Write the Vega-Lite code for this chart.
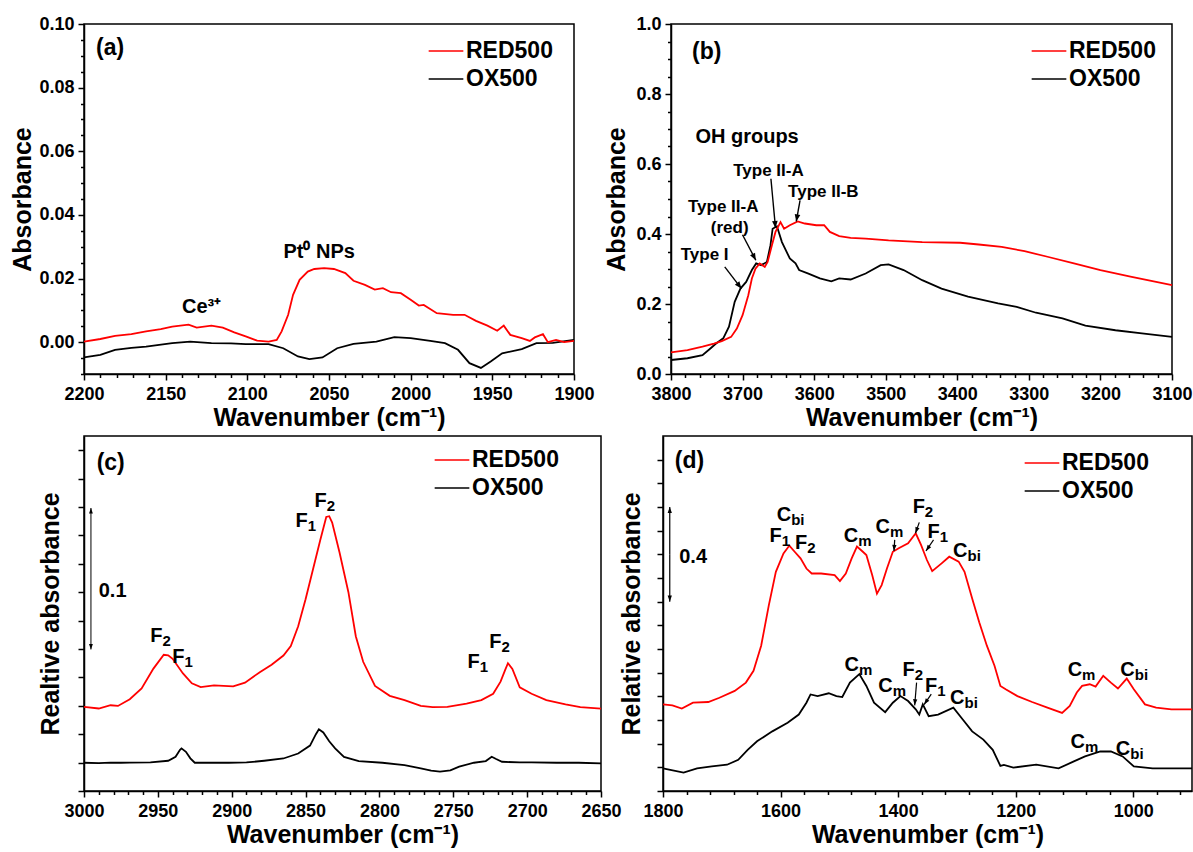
{
"$schema": "https://vega.github.io/schema/vega-lite/v6.json",
"padding": {"left": 10, "top": 14, "right": 0, "bottom": 0},
"datasets": {
"a_line": [
{"w":2200,"A":-0.0048,"s":"OX500"},{"w":2190,"A":-0.0040,"s":"OX500"},{"w":2181,"A":-0.0024,"s":"OX500"},{"w":2171,"A":-0.0018,"s":"OX500"},{"w":2162,"A":-0.0014,"s":"OX500"},{"w":2146,"A":-0.0003,"s":"OX500"},{"w":2135,"A":0.0002,"s":"OX500"},{"w":2122,"A":-0.0003,"s":"OX500"},{"w":2110,"A":-0.0004,"s":"OX500"},{"w":2101,"A":-0.0006,"s":"OX500"},{"w":2087,"A":-0.0006,"s":"OX500"},{"w":2078,"A":-0.0019,"s":"OX500"},{"w":2069,"A":-0.0045,"s":"OX500"},{"w":2062,"A":-0.0053,"s":"OX500"},{"w":2054,"A":-0.0048,"s":"OX500"},{"w":2045,"A":-0.0019,"s":"OX500"},{"w":2035,"A":-0.0005,"s":"OX500"},{"w":2021,"A":0.0002,"s":"OX500"},{"w":2010,"A":0.0016,"s":"OX500"},{"w":2000,"A":0.0013,"s":"OX500"},{"w":1988,"A":0.0004,"s":"OX500"},{"w":1979,"A":-0.0003,"s":"OX500"},{"w":1971,"A":-0.0024,"s":"OX500"},{"w":1964,"A":-0.0066,"s":"OX500"},{"w":1957,"A":-0.0081,"s":"OX500"},{"w":1951,"A":-0.0061,"s":"OX500"},{"w":1944,"A":-0.0035,"s":"OX500"},{"w":1932,"A":-0.0022,"s":"OX500"},{"w":1923,"A":-0.0003,"s":"OX500"},{"w":1913,"A":-0.0002,"s":"OX500"},{"w":1900,"A":0.0007,"s":"OX500"},
{"w":2200,"A":0.0002,"s":"RED500"},{"w":2190,"A":0.0010,"s":"RED500"},{"w":2181,"A":0.0020,"s":"RED500"},{"w":2171,"A":0.0025,"s":"RED500"},{"w":2162,"A":0.0034,"s":"RED500"},{"w":2153,"A":0.0041,"s":"RED500"},{"w":2146,"A":0.0049,"s":"RED500"},{"w":2136,"A":0.0055,"s":"RED500"},{"w":2131,"A":0.0046,"s":"RED500"},{"w":2122,"A":0.0052,"s":"RED500"},{"w":2115,"A":0.0046,"s":"RED500"},{"w":2108,"A":0.0031,"s":"RED500"},{"w":2101,"A":0.0018,"s":"RED500"},{"w":2094,"A":0.0005,"s":"RED500"},{"w":2087,"A":0.0002,"s":"RED500"},{"w":2082,"A":0.0007,"s":"RED500"},{"w":2079,"A":0.0034,"s":"RED500"},{"w":2075,"A":0.0086,"s":"RED500"},{"w":2072,"A":0.0149,"s":"RED500"},{"w":2068,"A":0.0196,"s":"RED500"},{"w":2063,"A":0.0222,"s":"RED500"},{"w":2059,"A":0.0230,"s":"RED500"},{"w":2053,"A":0.0233,"s":"RED500"},{"w":2047,"A":0.0230,"s":"RED500"},{"w":2040,"A":0.0217,"s":"RED500"},{"w":2035,"A":0.0193,"s":"RED500"},{"w":2028,"A":0.0180,"s":"RED500"},{"w":2022,"A":0.0165,"s":"RED500"},{"w":2017,"A":0.0170,"s":"RED500"},{"w":2012,"A":0.0157,"s":"RED500"},{"w":2006,"A":0.0154,"s":"RED500"},{"w":2000,"A":0.0133,"s":"RED500"},{"w":1995,"A":0.0115,"s":"RED500"},{"w":1992,"A":0.0117,"s":"RED500"},{"w":1984,"A":0.0091,"s":"RED500"},{"w":1974,"A":0.0086,"s":"RED500"},{"w":1967,"A":0.0086,"s":"RED500"},{"w":1960,"A":0.0067,"s":"RED500"},{"w":1953,"A":0.0052,"s":"RED500"},{"w":1947,"A":0.0036,"s":"RED500"},{"w":1943,"A":0.0052,"s":"RED500"},{"w":1939,"A":0.0023,"s":"RED500"},{"w":1932,"A":0.0013,"s":"RED500"},{"w":1927,"A":0.0004,"s":"RED500"},{"w":1924,"A":0.0015,"s":"RED500"},{"w":1919,"A":0.0025,"s":"RED500"},{"w":1916,"A":0.0000,"s":"RED500"},{"w":1911,"A":0.0007,"s":"RED500"},{"w":1906,"A":0.0000,"s":"RED500"},{"w":1900,"A":0.0004,"s":"RED500"}
],
"a_lab": [
{"w":2184,"A":0.0924,"t":"(a)","k":"panel"},
{"w":2128,"A":0.0110,"t":"Ce³⁺","k":"note"},
{"w":2056,"A":0.0283,"t":"Pt⁰ NPs","k":"note"}
],
"b_line": [
{"w":3800,"A":0.040,"s":"OX500"},{"w":3777,"A":0.045,"s":"OX500"},{"w":3756,"A":0.054,"s":"OX500"},{"w":3745,"A":0.073,"s":"OX500"},{"w":3737,"A":0.087,"s":"OX500"},{"w":3727,"A":0.102,"s":"OX500"},{"w":3719,"A":0.135,"s":"OX500"},{"w":3711,"A":0.206,"s":"OX500"},{"w":3703,"A":0.244,"s":"OX500"},{"w":3695,"A":0.263,"s":"OX500"},{"w":3687,"A":0.297,"s":"OX500"},{"w":3681,"A":0.316,"s":"OX500"},{"w":3674,"A":0.311,"s":"OX500"},{"w":3666,"A":0.320,"s":"OX500"},{"w":3661,"A":0.368,"s":"OX500"},{"w":3658,"A":0.415,"s":"OX500"},{"w":3652,"A":0.422,"s":"OX500"},{"w":3645,"A":0.377,"s":"OX500"},{"w":3634,"A":0.330,"s":"OX500"},{"w":3626,"A":0.316,"s":"OX500"},{"w":3621,"A":0.297,"s":"OX500"},{"w":3608,"A":0.287,"s":"OX500"},{"w":3592,"A":0.273,"s":"OX500"},{"w":3576,"A":0.265,"s":"OX500"},{"w":3565,"A":0.273,"s":"OX500"},{"w":3549,"A":0.270,"s":"OX500"},{"w":3528,"A":0.287,"s":"OX500"},{"w":3507,"A":0.311,"s":"OX500"},{"w":3496,"A":0.313,"s":"OX500"},{"w":3475,"A":0.297,"s":"OX500"},{"w":3449,"A":0.268,"s":"OX500"},{"w":3422,"A":0.244,"s":"OX500"},{"w":3385,"A":0.221,"s":"OX500"},{"w":3343,"A":0.202,"s":"OX500"},{"w":3317,"A":0.192,"s":"OX500"},{"w":3290,"A":0.175,"s":"OX500"},{"w":3253,"A":0.159,"s":"OX500"},{"w":3221,"A":0.138,"s":"OX500"},{"w":3179,"A":0.125,"s":"OX500"},{"w":3142,"A":0.116,"s":"OX500"},{"w":3100,"A":0.106,"s":"OX500"},
{"w":3800,"A":0.062,"s":"RED500"},{"w":3777,"A":0.068,"s":"RED500"},{"w":3756,"A":0.078,"s":"RED500"},{"w":3740,"A":0.087,"s":"RED500"},{"w":3729,"A":0.094,"s":"RED500"},{"w":3716,"A":0.106,"s":"RED500"},{"w":3708,"A":0.130,"s":"RED500"},{"w":3700,"A":0.168,"s":"RED500"},{"w":3692,"A":0.225,"s":"RED500"},{"w":3687,"A":0.273,"s":"RED500"},{"w":3682,"A":0.301,"s":"RED500"},{"w":3676,"A":0.316,"s":"RED500"},{"w":3669,"A":0.306,"s":"RED500"},{"w":3665,"A":0.320,"s":"RED500"},{"w":3659,"A":0.368,"s":"RED500"},{"w":3654,"A":0.406,"s":"RED500"},{"w":3647,"A":0.434,"s":"RED500"},{"w":3642,"A":0.415,"s":"RED500"},{"w":3634,"A":0.425,"s":"RED500"},{"w":3623,"A":0.436,"s":"RED500"},{"w":3613,"A":0.430,"s":"RED500"},{"w":3597,"A":0.425,"s":"RED500"},{"w":3586,"A":0.425,"s":"RED500"},{"w":3578,"A":0.406,"s":"RED500"},{"w":3565,"A":0.394,"s":"RED500"},{"w":3549,"A":0.389,"s":"RED500"},{"w":3528,"A":0.387,"s":"RED500"},{"w":3496,"A":0.382,"s":"RED500"},{"w":3449,"A":0.377,"s":"RED500"},{"w":3396,"A":0.375,"s":"RED500"},{"w":3370,"A":0.370,"s":"RED500"},{"w":3338,"A":0.363,"s":"RED500"},{"w":3306,"A":0.351,"s":"RED500"},{"w":3274,"A":0.335,"s":"RED500"},{"w":3237,"A":0.316,"s":"RED500"},{"w":3200,"A":0.297,"s":"RED500"},{"w":3158,"A":0.278,"s":"RED500"},{"w":3100,"A":0.254,"s":"RED500"}
],
"b_lab": [
{"w":3750,"A":0.919,"t":"(b)","k":"panel"},
{"w":3693.7,"A":0.677,"t":"OH groups","k":"note"},
{"w":3663.8,"A":0.580,"t":"Type II-A","k":"type"},
{"w":3587.1,"A":0.520,"t":"Type II-B","k":"type"},
{"w":3727,"A":0.477,"t":"Type II-A","k":"type"},
{"w":3718,"A":0.417,"t":"(red)","k":"type"},
{"w":3753,"A":0.339,"t":"Type I","k":"type"}
],
"b_arr": [
{"w":3701.6,"A":0.244,"w0":3724.9,"A0":0.306},
{"w":3681.5,"A":0.325,"w0":3700.1,"A0":0.398},
{"w":3654,"A":0.417,"w0":3660.4,"A0":0.558},
{"w":3625,"A":0.436,"w0":3619.7,"A0":0.496}
],
"c_line": [
{"w":3000,"A":0.0199,"s":"OX500"},{"w":2990,"A":0.0197,"s":"OX500"},{"w":2982,"A":0.0200,"s":"OX500"},{"w":2975,"A":0.0199,"s":"OX500"},{"w":2969,"A":0.0200,"s":"OX500"},{"w":2955,"A":0.0201,"s":"OX500"},{"w":2943,"A":0.0213,"s":"OX500"},{"w":2938,"A":0.0241,"s":"OX500"},{"w":2935,"A":0.0290,"s":"OX500"},{"w":2934,"A":0.0300,"s":"OX500"},{"w":2931,"A":0.0276,"s":"OX500"},{"w":2928,"A":0.0230,"s":"OX500"},{"w":2925,"A":0.0199,"s":"OX500"},{"w":2915,"A":0.0199,"s":"OX500"},{"w":2902,"A":0.0199,"s":"OX500"},{"w":2890,"A":0.0201,"s":"OX500"},{"w":2878,"A":0.0213,"s":"OX500"},{"w":2865,"A":0.0229,"s":"OX500"},{"w":2855,"A":0.0264,"s":"OX500"},{"w":2847,"A":0.0320,"s":"OX500"},{"w":2843,"A":0.0400,"s":"OX500"},{"w":2841,"A":0.0435,"s":"OX500"},{"w":2838,"A":0.0412,"s":"OX500"},{"w":2834,"A":0.0350,"s":"OX500"},{"w":2830,"A":0.0300,"s":"OX500"},{"w":2824,"A":0.0240,"s":"OX500"},{"w":2814,"A":0.0210,"s":"OX500"},{"w":2798,"A":0.0199,"s":"OX500"},{"w":2783,"A":0.0182,"s":"OX500"},{"w":2772,"A":0.0159,"s":"OX500"},{"w":2765,"A":0.0143,"s":"OX500"},{"w":2759,"A":0.0136,"s":"OX500"},{"w":2752,"A":0.0145,"s":"OX500"},{"w":2746,"A":0.0171,"s":"OX500"},{"w":2736,"A":0.0199,"s":"OX500"},{"w":2728,"A":0.0211,"s":"OX500"},{"w":2724,"A":0.0241,"s":"OX500"},{"w":2721,"A":0.0225,"s":"OX500"},{"w":2717,"A":0.0206,"s":"OX500"},{"w":2705,"A":0.0201,"s":"OX500"},{"w":2697,"A":0.0202,"s":"OX500"},{"w":2680,"A":0.0199,"s":"OX500"},{"w":2665,"A":0.0199,"s":"OX500"},{"w":2650,"A":0.0194,"s":"OX500"},
{"w":3000,"A":0.0592,"s":"RED500"},{"w":2990,"A":0.0581,"s":"RED500"},{"w":2982,"A":0.0604,"s":"RED500"},{"w":2977,"A":0.0599,"s":"RED500"},{"w":2969,"A":0.0646,"s":"RED500"},{"w":2961,"A":0.0722,"s":"RED500"},{"w":2953,"A":0.0862,"s":"RED500"},{"w":2946,"A":0.0959,"s":"RED500"},{"w":2943,"A":0.0955,"s":"RED500"},{"w":2940,"A":0.0931,"s":"RED500"},{"w":2933,"A":0.0828,"s":"RED500"},{"w":2927,"A":0.0758,"s":"RED500"},{"w":2921,"A":0.0732,"s":"RED500"},{"w":2912,"A":0.0744,"s":"RED500"},{"w":2899,"A":0.0737,"s":"RED500"},{"w":2891,"A":0.0763,"s":"RED500"},{"w":2881,"A":0.0837,"s":"RED500"},{"w":2873,"A":0.0889,"s":"RED500"},{"w":2865,"A":0.0954,"s":"RED500"},{"w":2860,"A":0.1020,"s":"RED500"},{"w":2855,"A":0.1160,"s":"RED500"},{"w":2850,"A":0.1350,"s":"RED500"},{"w":2845,"A":0.1560,"s":"RED500"},{"w":2840,"A":0.1770,"s":"RED500"},{"w":2836,"A":0.1930,"s":"RED500"},{"w":2834,"A":0.1935,"s":"RED500"},{"w":2832,"A":0.1890,"s":"RED500"},{"w":2827,"A":0.1680,"s":"RED500"},{"w":2821,"A":0.1400,"s":"RED500"},{"w":2816,"A":0.1090,"s":"RED500"},{"w":2811,"A":0.0910,"s":"RED500"},{"w":2803,"A":0.0740,"s":"RED500"},{"w":2793,"A":0.0670,"s":"RED500"},{"w":2783,"A":0.0640,"s":"RED500"},{"w":2772,"A":0.0600,"s":"RED500"},{"w":2764,"A":0.0590,"s":"RED500"},{"w":2754,"A":0.0593,"s":"RED500"},{"w":2741,"A":0.0615,"s":"RED500"},{"w":2731,"A":0.0640,"s":"RED500"},{"w":2723,"A":0.0685,"s":"RED500"},{"w":2718,"A":0.0770,"s":"RED500"},{"w":2715,"A":0.0850,"s":"RED500"},{"w":2713,"A":0.0900,"s":"RED500"},{"w":2710,"A":0.0860,"s":"RED500"},{"w":2705,"A":0.0730,"s":"RED500"},{"w":2697,"A":0.0685,"s":"RED500"},{"w":2687,"A":0.0640,"s":"RED500"},{"w":2674,"A":0.0610,"s":"RED500"},{"w":2664,"A":0.0590,"s":"RED500"},{"w":2650,"A":0.0580,"s":"RED500"}
],
"c_lab": [
{"w":2981.9,"A":0.231,"t":"(c)","k":"panel"},
{"w":2980.6,"A":0.141,"t":"0.1","k":"note"}
],
"c_sub": [
{"w":2946.9,"A":0.1095,"m":"F","s":"2"},
{"w":2931.9,"A":0.0943,"m":"F","s":"1"},
{"w":2848.6,"A":0.190,"m":"F","s":"1"},
{"w":2835.6,"A":0.204,"m":"F","s":"2"},
{"w":2732.1,"A":0.0908,"m":"F","s":"1"},
{"w":2717.3,"A":0.1048,"m":"F","s":"2"}
],
"c_arr": [
{"w":2995.3,"A":0.1993,"w0":2995.3,"A0":0.15},
{"w":2995.3,"A":0.0997,"w0":2995.3,"A0":0.15}
],
"d_line": [
{"w":1800,"A":0.096,"s":"OX500"},{"w":1765,"A":0.078,"s":"OX500"},{"w":1742,"A":0.096,"s":"OX500"},{"w":1717,"A":0.104,"s":"OX500"},{"w":1691,"A":0.111,"s":"OX500"},{"w":1672,"A":0.132,"s":"OX500"},{"w":1656,"A":0.174,"s":"OX500"},{"w":1640,"A":0.210,"s":"OX500"},{"w":1614,"A":0.252,"s":"OX500"},{"w":1588,"A":0.288,"s":"OX500"},{"w":1569,"A":0.323,"s":"OX500"},{"w":1556,"A":0.373,"s":"OX500"},{"w":1549,"A":0.408,"s":"OX500"},{"w":1537,"A":0.401,"s":"OX500"},{"w":1518,"A":0.413,"s":"OX500"},{"w":1505,"A":0.401,"s":"OX500"},{"w":1495,"A":0.397,"s":"OX500"},{"w":1482,"A":0.458,"s":"OX500"},{"w":1466,"A":0.494,"s":"OX500"},{"w":1454,"A":0.444,"s":"OX500"},{"w":1441,"A":0.373,"s":"OX500"},{"w":1422,"A":0.333,"s":"OX500"},{"w":1409,"A":0.373,"s":"OX500"},{"w":1396,"A":0.401,"s":"OX500"},{"w":1383,"A":0.380,"s":"OX500"},{"w":1370,"A":0.345,"s":"OX500"},{"w":1364,"A":0.323,"s":"OX500"},{"w":1358,"A":0.366,"s":"OX500"},{"w":1348,"A":0.316,"s":"OX500"},{"w":1332,"A":0.323,"s":"OX500"},{"w":1306,"A":0.352,"s":"OX500"},{"w":1290,"A":0.302,"s":"OX500"},{"w":1274,"A":0.252,"s":"OX500"},{"w":1255,"A":0.217,"s":"OX500"},{"w":1239,"A":0.174,"s":"OX500"},{"w":1226,"A":0.106,"s":"OX500"},{"w":1220,"A":0.110,"s":"OX500"},{"w":1204,"A":0.099,"s":"OX500"},{"w":1165,"A":0.111,"s":"OX500"},{"w":1127,"A":0.096,"s":"OX500"},{"w":1101,"A":0.125,"s":"OX500"},{"w":1082,"A":0.146,"s":"OX500"},{"w":1056,"A":0.167,"s":"OX500"},{"w":1038,"A":0.167,"s":"OX500"},{"w":1018,"A":0.146,"s":"OX500"},{"w":999,"A":0.104,"s":"OX500"},{"w":967,"A":0.096,"s":"OX500"},{"w":900,"A":0.096,"s":"OX500"},
{"w":1800,"A":0.366,"s":"RED500"},{"w":1784,"A":0.362,"s":"RED500"},{"w":1768,"A":0.348,"s":"RED500"},{"w":1749,"A":0.373,"s":"RED500"},{"w":1723,"A":0.376,"s":"RED500"},{"w":1704,"A":0.394,"s":"RED500"},{"w":1678,"A":0.423,"s":"RED500"},{"w":1659,"A":0.458,"s":"RED500"},{"w":1646,"A":0.508,"s":"RED500"},{"w":1633,"A":0.614,"s":"RED500"},{"w":1620,"A":0.784,"s":"RED500"},{"w":1608,"A":0.926,"s":"RED500"},{"w":1595,"A":1.004,"s":"RED500"},{"w":1585,"A":1.037,"s":"RED500"},{"w":1576,"A":1.011,"s":"RED500"},{"w":1566,"A":0.983,"s":"RED500"},{"w":1556,"A":0.940,"s":"RED500"},{"w":1547,"A":0.919,"s":"RED500"},{"w":1531,"A":0.919,"s":"RED500"},{"w":1508,"A":0.912,"s":"RED500"},{"w":1499,"A":0.887,"s":"RED500"},{"w":1489,"A":0.919,"s":"RED500"},{"w":1479,"A":0.983,"s":"RED500"},{"w":1470,"A":1.033,"s":"RED500"},{"w":1460,"A":1.011,"s":"RED500"},{"w":1454,"A":0.997,"s":"RED500"},{"w":1444,"A":0.912,"s":"RED500"},{"w":1436,"A":0.834,"s":"RED500"},{"w":1428,"A":0.870,"s":"RED500"},{"w":1419,"A":0.940,"s":"RED500"},{"w":1409,"A":1.011,"s":"RED500"},{"w":1399,"A":1.026,"s":"RED500"},{"w":1383,"A":1.047,"s":"RED500"},{"w":1370,"A":1.089,"s":"RED500"},{"w":1361,"A":1.040,"s":"RED500"},{"w":1351,"A":0.976,"s":"RED500"},{"w":1342,"A":0.929,"s":"RED500"},{"w":1326,"A":0.962,"s":"RED500"},{"w":1313,"A":0.990,"s":"RED500"},{"w":1297,"A":0.969,"s":"RED500"},{"w":1287,"A":0.926,"s":"RED500"},{"w":1274,"A":0.813,"s":"RED500"},{"w":1262,"A":0.713,"s":"RED500"},{"w":1249,"A":0.614,"s":"RED500"},{"w":1236,"A":0.529,"s":"RED500"},{"w":1226,"A":0.444,"s":"RED500"},{"w":1217,"A":0.430,"s":"RED500"},{"w":1197,"A":0.401,"s":"RED500"},{"w":1172,"A":0.376,"s":"RED500"},{"w":1146,"A":0.352,"s":"RED500"},{"w":1121,"A":0.330,"s":"RED500"},{"w":1108,"A":0.359,"s":"RED500"},{"w":1096,"A":0.416,"s":"RED500"},{"w":1087,"A":0.444,"s":"RED500"},{"w":1074,"A":0.451,"s":"RED500"},{"w":1064,"A":0.441,"s":"RED500"},{"w":1051,"A":0.487,"s":"RED500"},{"w":1038,"A":0.458,"s":"RED500"},{"w":1026,"A":0.433,"s":"RED500"},{"w":1011,"A":0.475,"s":"RED500"},{"w":999,"A":0.430,"s":"RED500"},{"w":980,"A":0.366,"s":"RED500"},{"w":961,"A":0.352,"s":"RED500"},{"w":935,"A":0.345,"s":"RED500"},{"w":900,"A":0.345,"s":"RED500"}
],
"d_lab": [
{"w":1755,"A":1.394,"t":"(d)","k":"panel"},
{"w":1748.7,"A":0.990,"t":"0.4","k":"note"}
],
"d_sub": [
{"w":1582,"A":1.165,"m":"C","s":"bi"},
{"w":1598,"A":1.079,"m":"F","s":"1"},
{"w":1554.5,"A":1.047,"m":"F","s":"2"},
{"w":1468,"A":1.079,"m":"C","s":"m"},
{"w":1414,"A":1.115,"m":"C","s":"m"},
{"w":1354.5,"A":1.199,"m":"F","s":"2"},
{"w":1329,"A":1.096,"m":"F","s":"1"},
{"w":1282,"A":1.016,"m":"C","s":"bi"},
{"w":1466.7,"A":0.532,"m":"C","s":"m"},
{"w":1409,"A":0.444,"m":"C","s":"m"},
{"w":1371.8,"A":0.512,"m":"F","s":"2"},
{"w":1333.3,"A":0.444,"m":"F","s":"1"},
{"w":1287,"A":0.394,"m":"C","s":"bi"},
{"w":1087,"A":0.512,"m":"C","s":"m"},
{"w":997.4,"A":0.512,"m":"C","s":"bi"},
{"w":1082,"A":0.206,"m":"C","s":"m"},
{"w":1005,"A":0.177,"m":"C","s":"bi"}
],
"d_arr": [
{"w":1407,"A":1.014,"w0":1405.8,"A0":1.061},
{"w":1370.5,"A":1.089,"w0":1364,"A0":1.135},
{"w":1352.6,"A":1.014,"w0":1339.7,"A0":1.061},
{"w":1371.8,"A":0.362,"w0":1368.6,"A0":0.458},
{"w":1355.8,"A":0.365,"w0":1343.6,"A0":0.409},
{"w":1788.5,"A":1.2,"w0":1788.5,"A0":1.0},
{"w":1788.5,"A":0.8,"w0":1788.5,"A0":1.0}
]
},
"concat": [
{"hconcat": [
{
"width": 490, "height": 350,
"encoding": {
"x": {"field": "w", "type": "quantitative", "scale": {"domain": [1900, 2200], "reverse": true, "nice": false, "zero": false},
"axis": {"title": "Wavenumber (cm⁻¹)", "values": [1900,1910,1920,1930,1940,1950,1960,1970,1980,1990,2000,2010,2020,2030,2040,2050,2060,2070,2080,2090,2100,2110,2120,2130,2140,2150,2160,2170,2180,2190,2200], "labelExpr": "datum.value % 50 === 0 ? format(datum.value, 'd') : ''", "tickSize": {"condition": {"test": "datum.value % 50 === 0", "value": 6}, "value": 3.5}}},
"y": {"field": "A", "type": "quantitative", "scale": {"domain": [-0.01, 0.1], "nice": false, "zero": false},
"axis": {"title": "Absorbance", "titlePadding": 3, "values": [-0.01,-0.005,0,0.005,0.01,0.015,0.02,0.025,0.03,0.035,0.04,0.045,0.05,0.055,0.06,0.065,0.07,0.075,0.08,0.085,0.09,0.095,0.1], "labelExpr": "abs(datum.value*50 - round(datum.value*50)) < 0.001 ? format(datum.value, '.2f') : ''", "tickSize": {"condition": {"test": "abs(datum.value*50 - round(datum.value*50)) < 0.001", "value": 6}, "value": 3.5}}}
},
"layer": [
{"data": {"name": "a_line"}, "mark": {"type": "line", "strokeWidth": 1.8},
"encoding": {"color": {"field": "s", "type": "nominal", "scale": {"domain": ["RED500", "OX500"], "range": ["#ff0000", "#000000"]}, "legend": {"title": null, "orient": "none", "legendX": 350, "legendY": 15}}}},
{"data": {"name": "a_lab"}, "transform": [{"filter": "datum.k === 'panel'"}], "mark": {"type": "text", "fontSize": 23, "fontWeight": "bold", "fill": "#000"}, "encoding": {"text": {"field": "t"}}},
{"data": {"name": "a_lab"}, "transform": [{"filter": "datum.k === 'note'"}], "mark": {"type": "text", "fontSize": 20, "fontWeight": "bold", "fill": "#000"}, "encoding": {"text": {"field": "t"}}}
]
},
{
"width": 501, "height": 350,
"encoding": {
"x": {"field": "w", "type": "quantitative", "scale": {"domain": [3100, 3800], "reverse": true, "nice": false, "zero": false},
"axis": {"title": "Wavenumber (cm⁻¹)", "values": [3100,3120,3140,3160,3180,3200,3220,3240,3260,3280,3300,3320,3340,3360,3380,3400,3420,3440,3460,3480,3500,3520,3540,3560,3580,3600,3620,3640,3660,3680,3700,3720,3740,3760,3780,3800], "labelExpr": "datum.value % 100 === 0 ? format(datum.value, 'd') : ''", "tickSize": {"condition": {"test": "datum.value % 100 === 0", "value": 6}, "value": 3.5}}},
"y": {"field": "A", "type": "quantitative", "scale": {"domain": [0, 1], "nice": false, "zero": false},
"axis": {"title": "Absorbance", "titlePadding": 6, "values": [0,0.05,0.1,0.15,0.2,0.25,0.3,0.35,0.4,0.45,0.5,0.55,0.6,0.65,0.7,0.75,0.8,0.85,0.9,0.95,1], "labelExpr": "abs(datum.value*5 - round(datum.value*5)) < 0.001 ? format(datum.value, '.1f') : ''", "tickSize": {"condition": {"test": "abs(datum.value*5 - round(datum.value*5)) < 0.001", "value": 6}, "value": 3.5}}}
},
"layer": [
{"data": {"name": "b_line"}, "mark": {"type": "line", "strokeWidth": 1.8},
"encoding": {"color": {"field": "s", "type": "nominal", "scale": {"domain": ["RED500", "OX500"], "range": ["#ff0000", "#000000"]}, "legend": {"title": null, "orient": "none", "legendX": 366, "legendY": 15}}}},
{"data": {"name": "b_lab"}, "transform": [{"filter": "datum.k === 'panel'"}], "mark": {"type": "text", "fontSize": 23, "fontWeight": "bold", "fill": "#000"}, "encoding": {"text": {"field": "t"}}},
{"data": {"name": "b_lab"}, "transform": [{"filter": "datum.k === 'note'"}], "mark": {"type": "text", "fontSize": 20, "fontWeight": "bold", "fill": "#000"}, "encoding": {"text": {"field": "t"}}},
{"data": {"name": "b_lab"}, "transform": [{"filter": "datum.k === 'type'"}], "mark": {"type": "text", "fontSize": 17, "fontWeight": "bold", "fill": "#000"}, "encoding": {"text": {"field": "t"}}},
{"data": {"name": "b_arr"}, "mark": {"type": "rule", "strokeWidth": 1.4, "color": "#000"}, "encoding": {"x2": {"field": "w0"}, "y2": {"field": "A0"}}},
{"data": {"name": "b_arr"}, "transform": [{"calculate": "atan2(-(datum.w0 - datum.w)*0.716, (datum.A0 - datum.A)*350)*180/PI", "as": "ang"}],
"mark": {"type": "point", "shape": "M0,0 L-0.4,-1 L0.4,-1 Z", "filled": true, "size": 200, "color": "#000", "opacity": 1},
"encoding": {"angle": {"field": "ang", "type": "quantitative", "scale": null}}}
]
}
], "spacing": 9, "resolve": {"scale": {"color": "independent"}, "legend": {"color": "independent"}}},
{"hconcat": [
{
"width": 517, "height": 355,
"encoding": {
"x": {"field": "w", "type": "quantitative", "scale": {"domain": [2650, 3000], "reverse": true, "nice": false, "zero": false},
"axis": {"title": "Wavenumber (cm⁻¹)", "values": [2650,2660,2670,2680,2690,2700,2710,2720,2730,2740,2750,2760,2770,2780,2790,2800,2810,2820,2830,2840,2850,2860,2870,2880,2890,2900,2910,2920,2930,2940,2950,2960,2970,2980,2990,3000], "labelExpr": "datum.value % 50 === 0 ? format(datum.value, 'd') : ''", "tickSize": {"condition": {"test": "datum.value % 50 === 0", "value": 6}, "value": 3.5}}},
"y": {"field": "A", "type": "quantitative", "scale": {"domain": [0, 0.25], "nice": false, "zero": false},
"axis": {"title": "Realtive absorbance", "values": [0,0.02,0.04,0.06,0.08,0.1,0.12,0.14,0.16,0.18,0.2,0.22,0.24], "labels": false, "tickSize": 6, "titlePadding": 14, "minExtent": 0}}
},
"layer": [
{"data": {"name": "c_line"}, "mark": {"type": "line", "strokeWidth": 1.8},
"encoding": {"color": {"field": "s", "type": "nominal", "scale": {"domain": ["RED500", "OX500"], "range": ["#ff0000", "#000000"]}, "legend": {"title": null, "orient": "none", "legendX": 356, "legendY": 12}}}},
{"data": {"name": "c_lab"}, "transform": [{"filter": "datum.k === 'panel'"}], "mark": {"type": "text", "fontSize": 23, "fontWeight": "bold", "fill": "#000"}, "encoding": {"text": {"field": "t"}}},
{"data": {"name": "c_lab"}, "transform": [{"filter": "datum.k === 'note'"}], "mark": {"type": "text", "fontSize": 20, "fontWeight": "bold", "fill": "#000"}, "encoding": {"text": {"field": "t"}}},
{"data": {"name": "c_sub"}, "mark": {"type": "text", "fontSize": 20, "fontWeight": "bold", "fill": "#000", "align": "right"}, "encoding": {"text": {"field": "m"}}},
{"data": {"name": "c_sub"}, "mark": {"type": "text", "fontSize": 15, "fontWeight": "bold", "fill": "#000", "align": "left", "dy": 5}, "encoding": {"text": {"field": "s"}}},
{"data": {"name": "c_arr"}, "mark": {"type": "rule", "strokeWidth": 1, "color": "#000"}, "encoding": {"x2": {"field": "w0"}, "y2": {"field": "A0"}}},
{"data": {"name": "c_arr"}, "transform": [{"calculate": "atan2(-(datum.w0 - datum.w)*1.477, (datum.A0 - datum.A)*1420)*180/PI", "as": "ang"}],
"mark": {"type": "point", "shape": "M0,0 L-0.35,-1 L0.35,-1 Z", "filled": true, "size": 120, "color": "#000", "opacity": 1},
"encoding": {"angle": {"field": "ang", "type": "quantitative", "scale": null}}}
]
},
{
"width": 529, "height": 355,
"encoding": {
"x": {"field": "w", "type": "quantitative", "scale": {"domain": [900, 1800], "reverse": true, "nice": false, "zero": false},
"axis": {"title": "Wavenumber (cm⁻¹)", "values": [920,960,1000,1040,1080,1120,1160,1200,1240,1280,1320,1360,1400,1440,1480,1520,1560,1600,1640,1680,1720,1760,1800], "labelExpr": "datum.value % 200 === 0 ? format(datum.value, 'd') : ''", "tickSize": {"condition": {"test": "datum.value % 200 === 0", "value": 6}, "value": 3.5}}},
"y": {"field": "A", "type": "quantitative", "scale": {"domain": [0, 1.5], "nice": false, "zero": false},
"axis": {"title": "Relative absorbance", "values": [0,0.1,0.2,0.3,0.4,0.5,0.6,0.7,0.8,0.9,1,1.1,1.2,1.3,1.4], "labels": false, "tickSize": 6, "titlePadding": 12, "minExtent": 0}}
},
"layer": [
{"data": {"name": "d_line"}, "mark": {"type": "line", "strokeWidth": 1.8},
"encoding": {"color": {"field": "s", "type": "nominal", "scale": {"domain": ["RED500", "OX500"], "range": ["#ff0000", "#000000"]}, "legend": {"title": null, "orient": "none", "legendX": 367, "legendY": 15}}}},
{"data": {"name": "d_lab"}, "transform": [{"filter": "datum.k === 'panel'"}], "mark": {"type": "text", "fontSize": 23, "fontWeight": "bold", "fill": "#000"}, "encoding": {"text": {"field": "t"}}},
{"data": {"name": "d_lab"}, "transform": [{"filter": "datum.k === 'note'"}], "mark": {"type": "text", "fontSize": 20, "fontWeight": "bold", "fill": "#000"}, "encoding": {"text": {"field": "t"}}},
{"data": {"name": "d_sub"}, "mark": {"type": "text", "fontSize": 20, "fontWeight": "bold", "fill": "#000", "align": "right"}, "encoding": {"text": {"field": "m"}}},
{"data": {"name": "d_sub"}, "mark": {"type": "text", "fontSize": 15, "fontWeight": "bold", "fill": "#000", "align": "left", "dy": 5}, "encoding": {"text": {"field": "s"}}},
{"data": {"name": "d_arr"}, "mark": {"type": "rule", "strokeWidth": 1.2, "color": "#000"}, "encoding": {"x2": {"field": "w0"}, "y2": {"field": "A0"}}},
{"data": {"name": "d_arr"}, "transform": [{"calculate": "atan2(-(datum.w0 - datum.w)*0.588, (datum.A0 - datum.A)*236.7)*180/PI", "as": "ang"}],
"mark": {"type": "point", "shape": "M0,0 L-0.35,-1 L0.35,-1 Z", "filled": true, "size": 150, "color": "#000", "opacity": 1},
"encoding": {"angle": {"field": "ang", "type": "quantitative", "scale": null}}}
]
}
], "spacing": -4, "resolve": {"scale": {"color": "independent"}, "legend": {"color": "independent"}}}
],
"columns": 1,
"align": "none",
"spacing": 4,
"resolve": {"scale": {"color": "independent"}, "legend": {"color": "independent"}},
"config": {
"font": "Liberation Sans",
"view": {"stroke": "#000", "strokeWidth": 1.5},
"axis": {"domainColor": "#000", "domainWidth": 1.5, "tickColor": "#000", "tickWidth": 1.5, "labelFont": "Liberation Sans", "labelFontSize": 18, "labelFontWeight": "bold", "labelColor": "#000", "titleFont": "Liberation Sans", "titleFontSize": 25, "titleFontWeight": "bold", "titleColor": "#000", "grid": false, "labelOverlap": false, "labelFlush": false, "labelPadding": 4},
"axisX": {"titlePadding": 2, "labelPadding": 5},
"legend": {"labelFont": "Liberation Sans", "labelFontSize": 23, "labelFontWeight": "bold", "labelColor": "#000", "symbolType": "M-1.55,0L1.55,0", "symbolSize": 500, "symbolStrokeWidth": 1.6, "labelOffset": 8, "rowPadding": 4, "padding": 0}
}
}
